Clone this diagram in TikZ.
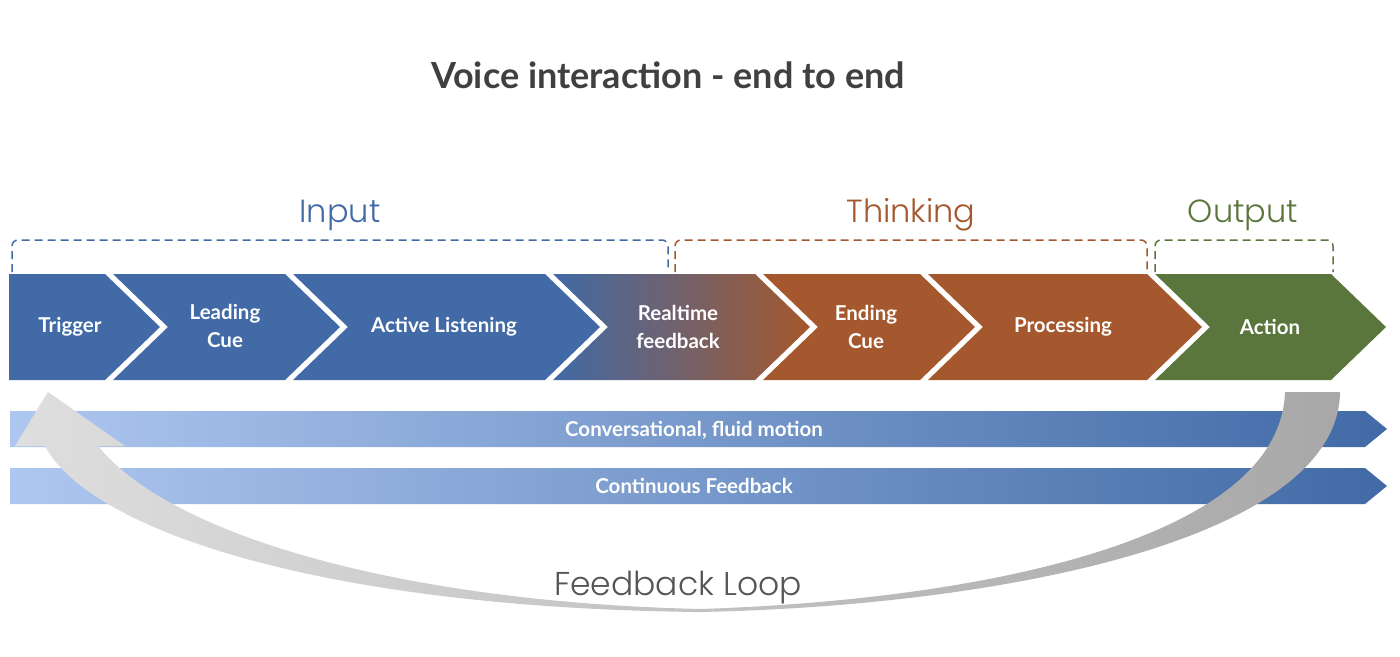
\documentclass[tikz,border=0pt]{standalone}
\usepackage{fontspec}
\setmainfont{Lato}
\newfontfamily\thinfont{Poppins Light}
\definecolor{blueC}{HTML}{416AA6}
\definecolor{orangeC}{HTML}{A5582D}
\definecolor{greenC}{HTML}{5B763D}
\definecolor{titleC}{HTML}{404040}
\definecolor{lightbar}{HTML}{AEC7F0}
\definecolor{loopL}{HTML}{DEDEDE}
\definecolor{loopR}{HTML}{A8A8A8}
\definecolor{loopT}{HTML}{555555}
\tikzset{
  lbl/.style={text=white, font=\bfseries\fontsize{20.5}{28}\selectfont, align=center, inner sep=0pt},
  phase/.style={font=\thinfont\fontsize{32}{36}\selectfont, inner sep=0pt},
  brack/.style={dash pattern=on 8pt off 5pt, line width=1.5pt, rounded corners=6pt},
  barlbl/.style={text=white, font=\bfseries\fontsize{20.5}{24}\selectfont, inner sep=0pt},
}
\begin{document}
\begin{tikzpicture}[x=1pt,y=-1pt]
\useasboundingbox (0,0) rectangle (1400,656);
\fill[white] (0,0) rectangle (1400,656);

% title
\node[text=titleC, font=\bfseries\fontsize{36}{40}\selectfont, inner sep=0pt] (title) at (668,75) {Voice interaction - end to end};

% phase labels
\node[phase, text=blueC] (input) at (340,215) {Input};
\node[phase, text=orangeC] (thinking) at (911,215) {Thinking};
\node[phase, text=greenC] (output) at (1243,215) {Output};

% brackets
\draw[brack, draw=blueC] (12,272) -- (12,240) -- (668,240) -- (668,272);
\draw[brack, draw=orangeC] (675,272) -- (675,240) -- (1147,240) -- (1147,272);
\draw[brack, draw=greenC] (1155,272) -- (1155,240) -- (1333,240) -- (1333,272);

% chevrons
\fill[blueC] (9,274) -- (105,274) -- (160,327) -- (105,380) -- (9,380) -- cycle;
\fill[blueC] (113,274) -- (285,274) -- (340,327) -- (285,380) -- (113,380) -- (168,327) -- cycle;
\fill[blueC] (293,274) -- (545,274) -- (600,327) -- (545,380) -- (293,380) -- (348,327) -- cycle;
\shade[left color=blueC, right color=orangeC] (553,274) -- (755,274) -- (810,327) -- (755,380) -- (553,380) -- (608,327) -- cycle;
\fill[orangeC] (763,274) -- (920,274) -- (975,327) -- (920,380) -- (763,380) -- (818,327) -- cycle;
\fill[orangeC] (928,274) -- (1147,274) -- (1202,327) -- (1147,380) -- (928,380) -- (983,327) -- cycle;
\fill[greenC] (1155,274) -- (1331,274) -- (1386,327) -- (1331,380) -- (1155,380) -- (1210,327) -- cycle;

\node[lbl] (trigger) at (70,327) {Trigger};
\node[lbl] (leading) at (225,326) {Leading\\Cue};
\node[lbl] (active) at (444,327) {Active Listening};
\node[lbl] (realtime) at (678,327) {Realtime\\feedback};
\node[lbl] (ending) at (866,327) {Ending\\Cue};
\node[lbl] (processing) at (1063,327) {Processing};
\node[lbl] (action) at (1270,327) {Action};

% bars
\shade[left color=lightbar, right color=blueC] (10,411) -- (1365,411) -- (1387,429) -- (1365,447) -- (10,447) -- cycle;
\shade[left color=lightbar, right color=blueC] (10,468) -- (1365,468) -- (1387,486) -- (1365,504) -- (10,504) -- cycle;
\node[barlbl] (conv) at (694,430) {Conversational, fluid motion};
\node[barlbl] (cont) at (694,486) {Continuous Feedback};

% feedback loop arrow
\shade[left color=loopL, right color=loopR]
  (1285,392) -- (1340,392)
  .. controls (1338,540) and (1000,606) .. (700,612)
  .. controls (320,608) and (90,530) .. (45,446)
  -- (15,446) -- (48,392) -- (125,446) -- (98,446)
  .. controls (170,535) and (400,602) .. (700,609)
  .. controls (980,600) and (1280,540) .. (1285,392) -- cycle;

\node[font=\thinfont\fontsize{33}{38}\selectfont, text=loopT, inner sep=0pt] (loop) at (678,588) {Feedback Loop};
\end{tikzpicture}
\end{document}
